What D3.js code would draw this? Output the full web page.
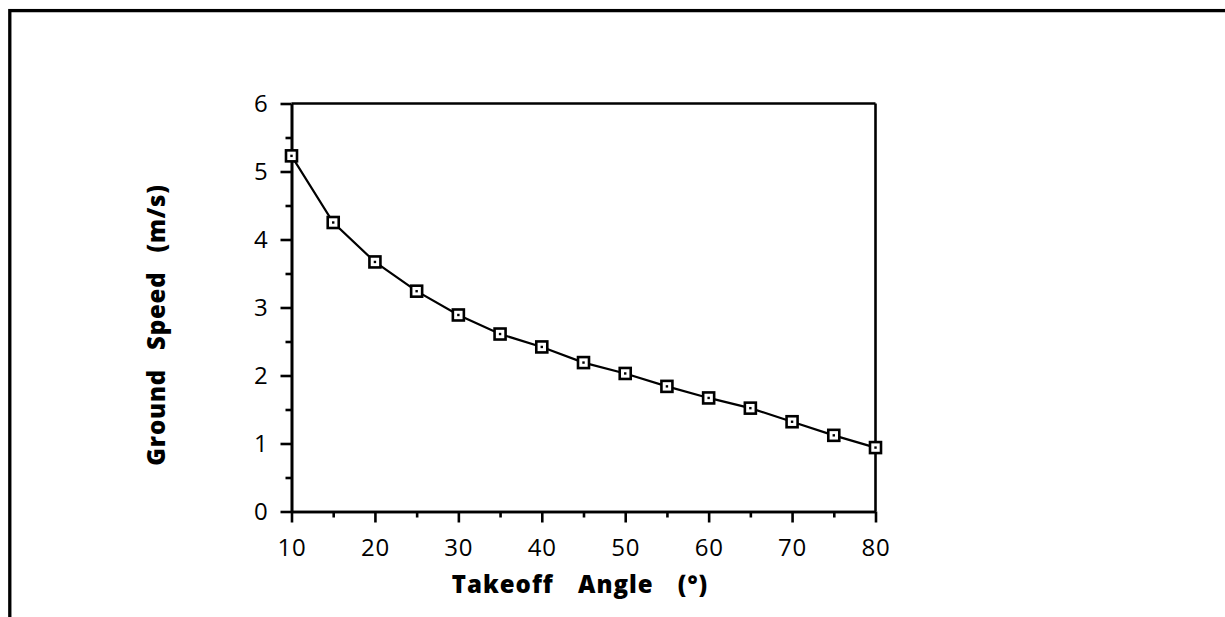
<!DOCTYPE html>
<html>
<head>
<meta charset="utf-8">
<script src="https://cdn.jsdelivr.net/npm/d3@7"></script>
<style>
  html, body { margin: 0; padding: 0; background: #fff; }
  svg { display: block; }
  .axis-title { font-family: "Open Sans", sans-serif; font-weight: 800; font-size: 24px; fill: #000; }
</style>
</head>
<body>
<svg id="chart" width="1225" height="617"></svg>
<script>
// Takeoff angle (degrees) and the corresponding ground speed (m/s)
const angles = [10, 15, 20, 25, 30, 35, 40, 45, 50, 55, 60, 65, 70, 75, 80];
const groundSpeed = [5.23, 4.25, 3.67, 3.24, 2.89, 2.61, 2.42, 2.19, 2.03, 1.84, 1.67, 1.52, 1.32, 1.12, 0.94];

const xMajorTicks = [10, 20, 30, 40, 50, 60, 70, 80];
const xMinorTicks = [15, 25, 35, 45, 55, 65, 75];
const yMajorTicks = [0, 1, 2, 3, 4, 5, 6];
const yMinorTicks = [0.5, 1.5, 2.5, 3.5, 4.5, 5.5];

const xTitle = "Takeoff Angle (°)";
const yTitle = "Ground Speed (m/s)";

const svg = d3.select("#chart");

// Outer frame (runs off the right and bottom edges)
svg.append("rect")
  .attr("x", 9.8).attr("y", 10.6)
  .attr("width", 1300).attr("height", 700)
  .attr("fill", "none").attr("stroke", "#000").attr("stroke-width", 3.3);

const x = d3.scaleLinear().domain([10, 80]).range([291.5, 875.5]);
const y = d3.scaleLinear().domain([0, 6]).range([511.5, 103.5]);

const axisStroke = 2.6;

// Plot box: top and right edges
svg.append("line")
  .attr("x1", x(10)).attr("x2", x(80)).attr("y1", y(6)).attr("y2", y(6))
  .attr("stroke", "#000").attr("stroke-width", axisStroke);
svg.append("line")
  .attr("x1", x(80)).attr("x2", x(80)).attr("y1", y(6)).attr("y2", y(0))
  .attr("stroke", "#000").attr("stroke-width", axisStroke);

function styleAxis(g) {
  g.attr("font-family", "Open Sans, sans-serif").attr("font-size", 24);
  g.select(".domain").attr("stroke", "#000").attr("stroke-width", axisStroke);
  g.selectAll(".tick line").attr("stroke", "#000").attr("stroke-width", axisStroke);
  g.selectAll(".tick text").attr("fill", "#000").attr("font-weight", 500).attr("letter-spacing", 0.8);
}

// Bottom axis
svg.append("g").attr("transform", `translate(0,${y(0)})`)
  .call(d3.axisBottom(x).tickValues(xMajorTicks).tickSize(11).tickPadding(16).tickFormat(d3.format("d")).tickSizeOuter(0))
  .call(styleAxis);
svg.append("g").attr("transform", `translate(0,${y(0)})`)
  .call(d3.axisBottom(x).tickValues(xMinorTicks).tickSize(6).tickFormat("").tickSizeOuter(0))
  .call(styleAxis);

// Left axis
svg.append("g").attr("transform", `translate(${x(10)},0)`)
  .call(d3.axisLeft(y).tickValues(yMajorTicks).tickSize(11).tickPadding(12).tickFormat(d3.format("d")).tickSizeOuter(0))
  .call(styleAxis);
svg.append("g").attr("transform", `translate(${x(10)},0)`)
  .call(d3.axisLeft(y).tickValues(yMinorTicks).tickSize(6).tickFormat("").tickSizeOuter(0))
  .call(styleAxis);

// Data line
const pts = angles.map((a, i) => [a, groundSpeed[i]]);
svg.append("path")
  .datum(pts)
  .attr("fill", "none").attr("stroke", "#000").attr("stroke-width", 2.2)
  .attr("d", d3.line().x(d => x(d[0])).y(d => y(d[1])));

// Square markers with a centre dot
const m = svg.append("g").selectAll("g").data(pts).join("g")
  .attr("transform", d => `translate(${x(d[0])},${y(d[1])})`);
m.append("rect")
  .attr("x", -5.5).attr("y", -5.5).attr("width", 11).attr("height", 11)
  .attr("fill", "#fff").attr("stroke", "#000").attr("stroke-width", 2.6);
m.append("rect")
  .attr("x", -1.2).attr("y", -1.2).attr("width", 2.4).attr("height", 2.4)
  .attr("fill", "#000");

// Axis titles
svg.append("text")
  .attr("class", "axis-title")
  .attr("x", 580).attr("y", 593)
  .attr("text-anchor", "middle")
  .attr("letter-spacing", 1).attr("word-spacing", 17)
  .text(xTitle);

svg.append("text")
  .attr("class", "axis-title")
  .attr("transform", "translate(165,325) rotate(-90)")
  .attr("text-anchor", "middle")
  .attr("letter-spacing", 0.8).attr("word-spacing", 12)
  .text(yTitle);
</script>
</body>
</html>
